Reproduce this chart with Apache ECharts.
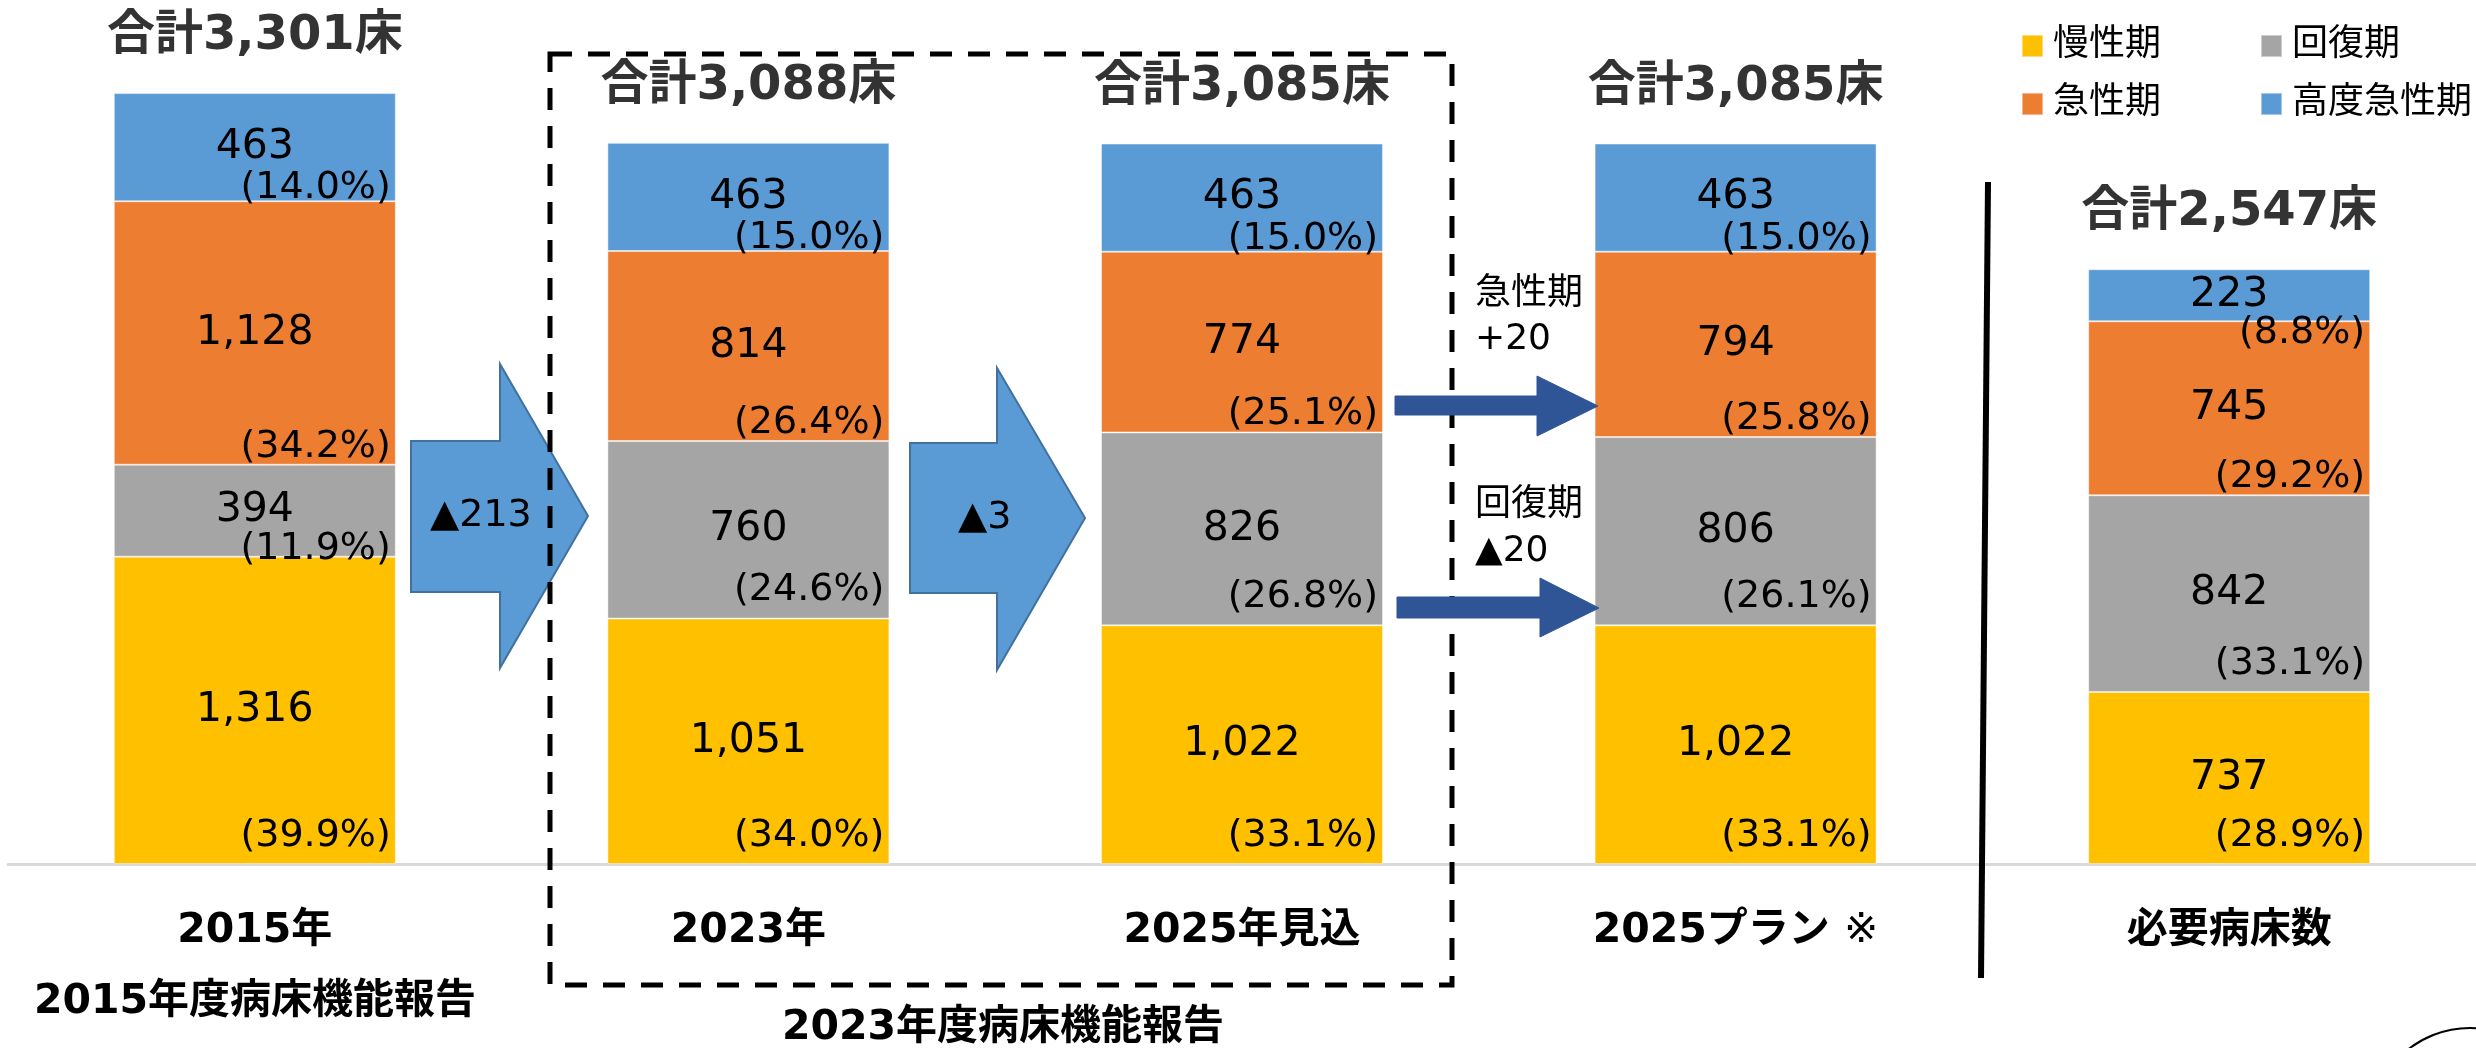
<!DOCTYPE html>
<html>
<head>
<meta charset="utf-8">
<script src="https://cdn.jsdelivr.net/npm/echarts@6/dist/echarts.min.js"></script>
<style>
html,body{margin:0;padding:0;background:#fff;}
#chart{width:2476px;height:1048px;}
</style>
</head>
<body>
<div id="chart"></div>
<script>
// ---- data ----
const categories = ['2015年', '2023年', '2025年見込', '2025プラン ※', '必要病床数'];
const chronic = [1316, 1051, 1022, 1022, 737];        // 慢性期
const recovery = [394, 760, 826, 806, 842];           // 回復期
const acute = [1128, 814, 774, 794, 745];             // 急性期
const highAcute = [463, 463, 463, 463, 223];          // 高度急性期
const chronicPct = [39.9, 34.0, 33.1, 33.1, 28.9];
const recoveryPct = [11.9, 24.6, 26.8, 26.1, 33.1];
const acutePct = [34.2, 26.4, 25.1, 25.8, 29.2];
const highAcutePct = [14.0, 15.0, 15.0, 15.0, 8.8];
const totals = [3301, 3088, 3085, 3085, 2547];
const arrowLabels = ['▲213', '▲3'];
const shiftLabels = [['急性期', '+20'], ['回復期', '▲20']];
const reportLabels = ['2015年度病床機能報告', '2023年度病床機能報告'];

// ---- layout / style ----
const FONT = "'DejaVu Sans','Noto Sans CJK JP',sans-serif";
const GRID_LEFT = 8, GRID_W = 2472, GRID_TOP = 70, GRID_H = 794, Y_MAX = 3400;
const PX = GRID_H / Y_MAX;
const BAR_W = 282;

const stacks = [
  {name: '慢性期', values: chronic, pcts: chronicPct, color: '#FFC000', d: 28},
  {name: '回復期', values: recovery, pcts: recoveryPct, color: '#A5A5A5', d: 28},
  {name: '急性期', values: acute, pcts: acutePct, color: '#ED7D31', d: 18},
  {name: '高度急性期', values: highAcute, pcts: highAcutePct, color: '#5B9BD5', d: 13}
];

const fmt = v => v.toLocaleString('en-US');

const series = [];
stacks.forEach(s => {
  series.push({
    name: s.name, type: 'bar', stack: 'beds', barWidth: BAR_W,
    xAxisIndex: 0, yAxisIndex: 0,
    itemStyle: {color: s.color, borderColor: 'rgba(255,255,255,0.45)', borderWidth: 1},
    label: {show: true, position: 'inside', color: '#000', fontSize: 41, fontFamily: FONT,
            formatter: p => fmt(p.value)},
    data: s.values
  });
});
stacks.forEach(s => {
  series.push({
    name: 'pct-' + s.name, type: 'bar', stack: 'pct', barWidth: BAR_W,
    xAxisIndex: 1, yAxisIndex: 0, silent: true,
    itemStyle: {color: 'rgba(0,0,0,0)'},
    label: {show: true, position: 'insideBottomRight', distance: 0,
            align: 'right', verticalAlign: 'middle',
            color: '#000', fontSize: 38, fontFamily: FONT,
            formatter: p => '(' + s.pcts[p.dataIndex].toFixed(1) + '%)'},
    data: s.values.map(v => {
      const h = v * PX;
      const c = Math.min(s.d, h / 2 - 38);
      return {value: v, label: {offset: [-5, -c]}};
    })
  });
});
series.push({
  name: 'totals', type: 'scatter', xAxisIndex: 0, yAxisIndex: 0, silent: true,
  symbolSize: 1, itemStyle: {color: 'rgba(0,0,0,0)'},
  label: {show: true, position: 'top', distance: 56, verticalAlign: 'middle',
          color: '#000', fontSize: 48, fontWeight: 'bold', fontFamily: FONT,
          formatter: p => '合計' + fmt(p.value) + '床'},
  data: totals
});

// ---- annotations ----
const lightArrow = pts => ({
  type: 'polygon', z: 5, shape: {points: pts},
  style: {fill: '#5B9BD5', stroke: '#41719C', lineWidth: 2}
});
const darkArrow = pts => ({
  type: 'polygon', z: 7, shape: {points: pts},
  style: {fill: '#2F5597', stroke: '#2F5597', lineWidth: 1}
});
const txt = (text, x, y, size, weight, align) => ({
  type: 'text', z: 8,
  style: {text: text, x: x, y: y, fontSize: size, fontWeight: weight || 'normal',
          fontFamily: FONT, fill: '#000', align: align || 'left', verticalAlign: 'middle'}
});

const graphic = [
  lightArrow([[411,441],[500,441],[500,364],[588,516],[500,668],[500,592],[411,592]]),
  lightArrow([[910,443],[997,443],[997,368],[1085,518],[997,670],[997,593],[910,593]]),
  {type: 'rect', z: 6, shape: {x: 550, y: 54, width: 902, height: 931},
   style: {fill: 'none', stroke: '#000', lineWidth: 5, lineDash: [22, 16]}},
  darkArrow([[1395,396],[1537,396],[1537,376],[1598,406],[1537,436],[1537,415],[1395,415]]),
  darkArrow([[1397,597],[1540,597],[1540,578],[1599,608],[1540,637],[1540,618],[1397,618]]),
  {type: 'line', z: 6, shape: {x1: 1988, y1: 182, x2: 1981, y2: 978},
   style: {stroke: '#000', lineWidth: 6}},
  {type: 'arc', z: 6, shape: {cx: 2470, cy: 1128, r: 100, startAngle: Math.PI, endAngle: 2 * Math.PI},
   style: {fill: 'none', stroke: '#000', lineWidth: 2}},
  txt(arrowLabels[0], 430, 516, 38),
  txt(arrowLabels[1], 958, 518, 38),
  txt(shiftLabels[0][0], 1475, 295, 36),
  txt(shiftLabels[0][1], 1475, 340, 36),
  txt(shiftLabels[1][0], 1475, 506, 36),
  txt(shiftLabels[1][1], 1475, 552, 36),
  txt(reportLabels[0], 255, 1002, 41, 'bold', 'center'),
  txt(reportLabels[1], 1003, 1028, 41, 'bold', 'center')
];

const legendText = {fontSize: 36, fontFamily: FONT, color: '#000', padding: [0, 0, 0, 5]};

const option = {
  animation: false,
  backgroundColor: '#ffffff',
  grid: {left: GRID_LEFT, width: GRID_W, top: GRID_TOP, height: GRID_H, containLabel: false},
  legend: [
    {data: ['慢性期', '回復期'], left: 2021, top: 28, padding: 0, itemGap: 99,
     itemWidth: 21, itemHeight: 22, icon: 'rect', textStyle: legendText, selectedMode: false},
    {data: ['急性期', '高度急性期'], left: 2021, top: 86, padding: 0, itemGap: 99,
     itemWidth: 21, itemHeight: 22, icon: 'rect', textStyle: legendText, selectedMode: false}
  ],
  xAxis: [
    {type: 'category', data: categories, gridIndex: 0,
     axisLine: {show: true, lineStyle: {color: '#D9D9D9', width: 3}},
     axisTick: {show: false},
     axisLabel: {interval: 0, margin: 47, color: '#000', fontSize: 41, fontWeight: 'bold', fontFamily: FONT,
                 formatter: v => v.replace('※', '{n|※}'),
                 rich: {n: {fontSize: 41, fontWeight: 'normal', fontFamily: FONT, color: '#000'}}}},
    {type: 'category', data: categories, gridIndex: 0, show: false}
  ],
  yAxis: {type: 'value', min: 0, max: Y_MAX, show: false, splitLine: {show: false}},
  series: series,
  graphic: graphic
};

const chart = echarts.init(document.getElementById('chart'));
chart.setOption(option);
</script>
</body>
</html>
